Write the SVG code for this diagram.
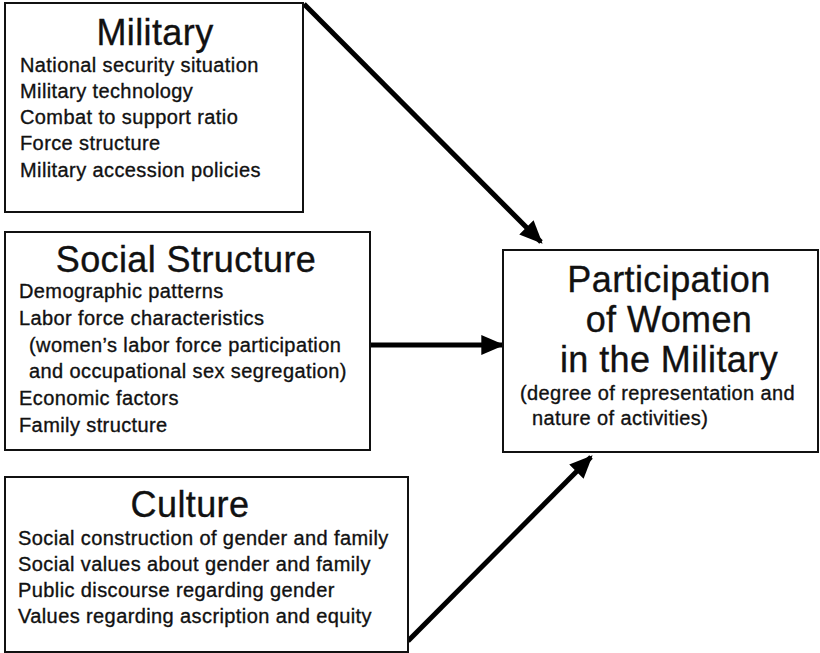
<svg xmlns="http://www.w3.org/2000/svg" width="820" height="653" viewBox="0 0 820 653">
<defs>
<style>
.box{fill:#fff;stroke:#111;stroke-width:2}
.t{font-family:"Liberation Sans",Arial,sans-serif;fill:#111;stroke:#111;stroke-width:0.35}
.h{font-size:36px;letter-spacing:0.4px;text-anchor:middle}
.i{font-size:20px;letter-spacing:0.4px}
.c{stroke:#000;stroke-width:5;fill:none}
</style>
<marker id="ah" viewBox="0 0 10 10" refX="9" refY="5" markerWidth="4.6" markerHeight="4.6" orient="auto" markerUnits="strokeWidth">
<path d="M0,0.6 L10,5 L0,9.4 z" fill="#000"/>
</marker>
</defs>
<rect width="820" height="653" fill="#fff"/>
<g id="connectors">
<line class="c" x1="304" y1="4" x2="541" y2="242" marker-end="url(#ah)"/>
<line class="c" x1="371" y1="345" x2="502" y2="345" marker-end="url(#ah)"/>
<line class="c" x1="408" y1="641" x2="591" y2="457" marker-end="url(#ah)"/>
</g>
<g id="military">
<rect class="box" x="5" y="3" width="298" height="209"/>
<text class="t h" x="155" y="45">Military</text>
<text class="t i" x="20" y="72">National security situation</text>
<text class="t i" x="20" y="98">Military technology</text>
<text class="t i" x="20" y="124">Combat to support ratio</text>
<text class="t i" x="20" y="150">Force structure</text>
<text class="t i" x="20" y="177">Military accession policies</text>
</g>
<g id="social">
<rect class="box" x="5" y="232" width="365" height="218"/>
<text class="t h" x="186" y="272">Social Structure</text>
<text class="t i" x="19" y="298">Demographic patterns</text>
<text class="t i" x="19" y="325">Labor force characteristics</text>
<text class="t i" x="29" y="352">(women’s labor force participation</text>
<text class="t i" x="29" y="378">and occupational sex segregation)</text>
<text class="t i" x="19" y="405">Economic factors</text>
<text class="t i" x="19" y="432">Family structure</text>
</g>
<g id="culture">
<rect class="box" x="5" y="477" width="403" height="175"/>
<text class="t h" x="190" y="517">Culture</text>
<text class="t i" x="18" y="545">Social construction of gender and family</text>
<text class="t i" x="18" y="571">Social values about gender and family</text>
<text class="t i" x="18" y="597">Public discourse regarding gender</text>
<text class="t i" x="18" y="623">Values regarding ascription and equity</text>
</g>
<g id="participation">
<rect class="box" x="503" y="250" width="315" height="202"/>
<text class="t h" x="669" y="292">Participation</text>
<text class="t h" x="669" y="332">of Women</text>
<text class="t h" x="669" y="372">in the Military</text>
<text class="t i" x="520" y="400">(degree of representation and</text>
<text class="t i" x="532" y="425">nature of activities)</text>
</g>
</svg>
